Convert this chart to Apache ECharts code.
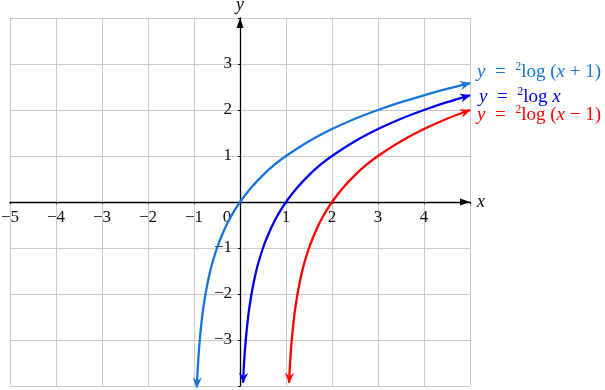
<!DOCTYPE html>
<html><head><meta charset="utf-8">
<script src="https://cdn.jsdelivr.net/npm/echarts@6/dist/echarts.min.js"></script>
<style>html,body{margin:0;padding:0;background:#fff}#c{width:605px;height:390px}</style>
</head><body><div id="c"></div>
<script>
// Tick values
const xTicks = [-5, -4, -3, -2, -1, 0, 1, 2, 3, 4, 5];
const yTicks = [-4, -3, -2, -1, 0, 1, 2, 3, 4];

// y = 2log(x+1)
const lightX = [-0.939, -0.933, -0.92, -0.9, -0.88, -0.85, -0.82, -0.8, -0.75, -0.7, -0.65, -0.6, -0.5, -0.4, -0.3, -0.2, 0, 0.25, 0.5, 0.75, 1, 1.5, 2, 2.5, 3, 3.5, 4, 4.5, 5];
const lightY = [-4.03, -3.9, -3.64, -3.32, -3.06, -2.74, -2.47, -2.32, -2.0, -1.74, -1.51, -1.32, -1.0, -0.74, -0.515, -0.32, 0, 0.32, 0.585, 0.81, 1.0, 1.32, 1.585, 1.81, 2.0, 2.17, 2.32, 2.46, 2.585];

// y = 2log x
const blueX = [0.066, 0.08, 0.1, 0.12, 0.15, 0.18, 0.2, 0.25, 0.3, 0.35, 0.4, 0.5, 0.6, 0.7, 0.8, 1, 1.25, 1.5, 1.75, 2, 2.5, 3, 3.5, 4, 4.5, 5];
const blueY = [-3.93, -3.64, -3.32, -3.06, -2.74, -2.47, -2.32, -2.0, -1.74, -1.51, -1.32, -1.0, -0.74, -0.515, -0.32, 0, 0.32, 0.585, 0.81, 1.0, 1.32, 1.585, 1.81, 2.0, 2.17, 2.32];

// y = 2log(x-1)
const redX = [1.066, 1.08, 1.1, 1.12, 1.15, 1.18, 1.2, 1.25, 1.3, 1.35, 1.4, 1.5, 1.6, 1.7, 1.8, 2, 2.25, 2.5, 2.75, 3, 3.5, 4, 4.5, 5];
const redY = [-3.93, -3.64, -3.32, -3.06, -2.74, -2.47, -2.32, -2.0, -1.74, -1.51, -1.32, -1.0, -0.74, -0.515, -0.32, 0, 0.32, 0.585, 0.81, 1.0, 1.32, 1.585, 1.81, 2.0];

const curveLabels = ['{i|y}  =  {s|2}log ({i|x} + 1)', '{i|y}  =  {s|2}log {i|x}', '{i|y}  =  {s|2}log ({i|x} \u2212 1)'];
const curveColors = ['#1874d8', '#0000ee', '#ff0000'];
const labelOffsets = [[0, -11], [2, 2], [0, 5]];

const SERIF = 'Liberation Serif';
const TICK_COLOR = '#111';
function zip(xs, ys) { return xs.map((x, i) => [x, ys[i]]); }
function fmtNum(v) { return v < 0 ? '\u2212' + (-v) : String(v); }
function makeRich(color) {
  return {
    i: { fontFamily: SERIF, fontStyle: 'italic', fontSize: 19, color: color, lineHeight: 22 },
    s: { fontFamily: SERIF, fontSize: 12, color: color, verticalAlign: 'top', lineHeight: 22 }
  };
}
function lineSeries(xs, ys, k) {
  return {
    type: 'line', data: zip(xs, ys), showSymbol: false, symbol: 'none', clip: false,
    smooth: 0.3, silent: true, z: 3,
    lineStyle: { color: curveColors[k], width: 2.3 },
    endLabel: {
      show: true, formatter: curveLabels[k], distance: 7, offset: labelOffsets[k],
      fontFamily: SERIF, fontSize: 19, color: curveColors[k], lineHeight: 22,
      rich: makeRich(curveColors[k])
    }
  };
}
function arrowSeries(xs, ys, k) {
  const n = xs.length;
  return {
    type: 'custom', coordinateSystem: 'cartesian2d', clip: false, silent: true, z: 4,
    itemStyle: { color: curveColors[k] },
    data: [[xs[0], ys[0], xs[2], ys[2]], [xs[n - 1], ys[n - 1], xs[n - 2], ys[n - 2]]],
    encode: { x: [0, 2], y: [1, 3] },
    renderItem: function (params, api) {
      const tip = api.coord([api.value(0), api.value(1)]);
      const back = api.coord([api.value(2), api.value(3)]);
      const ang = Math.atan2(tip[1] - back[1], tip[0] - back[0]);
      const ux = Math.cos(ang), uy = Math.sin(ang), px = -uy, py = ux;
      const L = 10, W = 4.6, I = 6.5;
      const pts = [
        [tip[0] + 0.8 * ux, tip[1] + 0.8 * uy],
        [tip[0] - L * ux + W * px, tip[1] - L * uy + W * py],
        [tip[0] - I * ux, tip[1] - I * uy],
        [tip[0] - L * ux - W * px, tip[1] - L * uy - W * py]
      ];
      return { type: 'polygon', shape: { points: pts }, style: { fill: api.visual('color') } };
    }
  };
}

const GRID = { left: 10, right: 135, top: 18, bottom: 4 };
const W = 605 - GRID.left - GRID.right, H = 390 - GRID.top - GRID.bottom;
// axes cross at the origin: shift them from the grid edges to x=0 / y=0
const xAxisShift = -H * (0 - yTicks[0]) / (yTicks[yTicks.length - 1] - yTicks[0]);
const yAxisShift = -W * (0 - xTicks[0]) / (xTicks[xTicks.length - 1] - xTicks[0]);

const chart = echarts.init(document.getElementById('c'), null, { renderer: 'canvas' });
chart.setOption({
  animation: false,
  backgroundColor: '#ffffff',
  grid: Object.assign({ containLabel: false, outerBoundsMode: 'none' }, GRID),
  xAxis: {
    type: 'value', min: xTicks[0], max: xTicks[xTicks.length - 1], interval: 1,
    position: 'bottom', offset: xAxisShift,
    name: 'x', nameLocation: 'end', nameGap: 7,
    nameTextStyle: { fontFamily: SERIF, fontStyle: 'italic', fontSize: 18, color: TICK_COLOR },
    axisLine: { onZero: false, lineStyle: { color: '#000', width: 1.3 }, symbol: ['none', 'triangle'], symbolSize: [7, 10], symbolOffset: [0, -5] },
    axisTick: { show: true, length: 2, lineStyle: { color: '#000', width: 1 } },
    splitLine: { show: true, lineStyle: { color: '#cacaca', width: 1 } },
    axisLabel: {
      margin: 7, fontFamily: SERIF, fontSize: 17, color: TICK_COLOR,
      formatter: function (v) { if (v === 5) return ''; if (v === 0) return '{z|0}'; return fmtNum(v); },
      rich: { z: { fontFamily: SERIF, fontSize: 17, color: TICK_COLOR, padding: [0, 26, 0, 0] } }
    }
  },
  yAxis: {
    type: 'value', min: yTicks[0], max: yTicks[yTicks.length - 1], interval: 1,
    position: 'left', offset: yAxisShift,
    name: 'y', nameLocation: 'end', nameGap: 4,
    nameTextStyle: { fontFamily: SERIF, fontStyle: 'italic', fontSize: 18, color: TICK_COLOR },
    axisLine: { onZero: false, lineStyle: { color: '#000', width: 1.3 }, symbol: ['none', 'triangle'], symbolSize: [7, 10], symbolOffset: [0, -5] },
    axisTick: { show: true, length: 2, lineStyle: { color: '#000', width: 1 } },
    splitLine: { show: true, lineStyle: { color: '#cacaca', width: 1 } },
    axisLabel: {
      margin: 8, fontFamily: SERIF, fontSize: 17, color: TICK_COLOR,
      formatter: function (v) { if (v === 0 || v === 4 || v === -4) return ''; return fmtNum(v); }
    }
  },
  series: [
    lineSeries(lightX, lightY, 0), lineSeries(blueX, blueY, 1), lineSeries(redX, redY, 2),
    arrowSeries(lightX, lightY, 0), arrowSeries(blueX, blueY, 1), arrowSeries(redX, redY, 2)
  ]
});
</script></body></html>
